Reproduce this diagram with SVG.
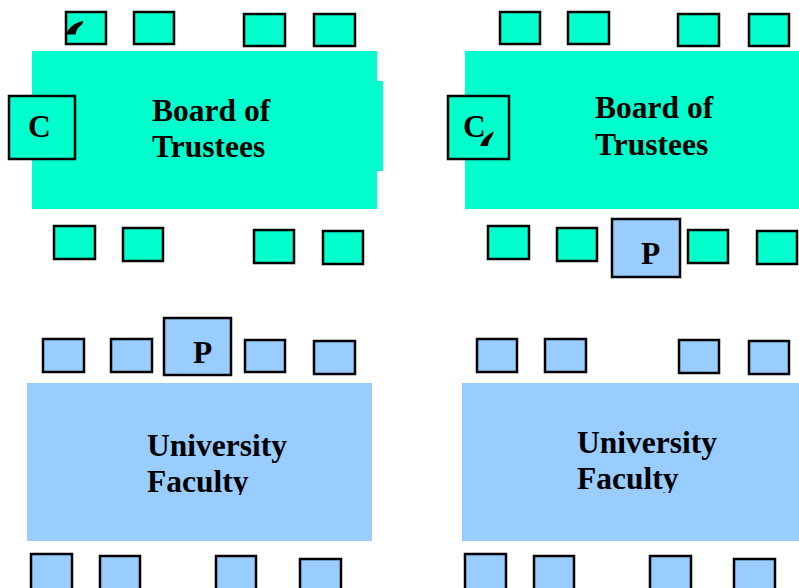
<svg xmlns="http://www.w3.org/2000/svg" width="799" height="588" viewBox="0 0 799 588">
<style>
.teal{fill:#00FFCC}
.blue{fill:#99CCFF}
.chair{stroke:#000;stroke-width:2.5}
.lbl{font-family:"Liberation Serif","Times New Roman",serif;font-weight:bold;font-size:31.5px;fill:#000}
.mark{fill:#000}
</style>
<defs>
<clipPath id="clipBL"><rect x="27" y="383" width="345" height="112"/></clipPath>
<clipPath id="clipBR"><rect x="462" y="383" width="337" height="110"/></clipPath>
</defs>
<rect width="799" height="588" fill="#fff"/>

<!-- Top-left panel -->
<g id="board-left">
<rect class="teal" x="32" y="51" width="345" height="158"/>
<rect class="teal" x="376" y="81" width="7" height="90"/>
<text class="lbl" x="152" y="121">Board of</text>
<text class="lbl" x="152" y="157">Trustees</text>
</g>
<g id="tl-top-1"><rect class="teal chair" x="66" y="12" width="40" height="32"/><path class="mark" d="M66.5,34.5 Q69,24 83.5,21 L82,24.5 Q76.5,28 75.5,34.5 Z"/></g>
<g id="tl-top-2"><rect class="teal chair" x="134" y="12" width="40" height="32"/></g>
<g id="tl-top-3"><rect class="teal chair" x="244" y="14" width="41" height="32"/></g>
<g id="tl-top-4"><rect class="teal chair" x="314" y="14" width="41" height="32"/></g>
<g id="tl-chair-c"><rect class="teal chair" x="9" y="96" width="66" height="63"/><text class="lbl" x="28" y="137">C</text></g>
<g id="tl-bot-1"><rect class="teal chair" x="54" y="226" width="41" height="33"/></g>
<g id="tl-bot-2"><rect class="teal chair" x="123" y="228" width="40" height="33"/></g>
<g id="tl-bot-3"><rect class="teal chair" x="254" y="230" width="40" height="33"/></g>
<g id="tl-bot-4"><rect class="teal chair" x="323" y="231" width="40" height="33"/></g>

<!-- Top-right panel -->
<g id="board-right">
<rect class="teal" x="465" y="51" width="334" height="158"/>
<text class="lbl" x="595" y="118">Board of</text>
<text class="lbl" x="595" y="155">Trustees</text>
</g>
<g id="tr-top-1"><rect class="teal chair" x="500" y="12" width="40" height="32"/></g>
<g id="tr-top-2"><rect class="teal chair" x="568" y="12" width="41" height="32"/></g>
<g id="tr-top-3"><rect class="teal chair" x="678" y="14" width="41" height="32"/></g>
<g id="tr-top-4"><rect class="teal chair" x="749" y="14" width="40" height="32"/></g>
<g id="tr-chair-c"><rect class="teal chair" x="448" y="96" width="61" height="63"/><text class="lbl" x="463" y="137">C</text><path class="mark" d="M480,146 Q483.5,136 494,131.5 L492,136.5 Q488.5,139.5 488,146 Z"/></g>
<g id="tr-bot-1"><rect class="teal chair" x="488" y="226" width="41" height="33"/></g>
<g id="tr-bot-2"><rect class="teal chair" x="557" y="228" width="40" height="33"/></g>
<g id="tr-chair-p"><rect class="blue chair" x="612" y="219" width="68" height="58"/><text class="lbl" x="641" y="264">P</text></g>
<g id="tr-bot-3"><rect class="teal chair" x="688" y="230" width="40" height="33"/></g>
<g id="tr-bot-4"><rect class="teal chair" x="757" y="231" width="40" height="33"/></g>

<!-- Bottom-left panel -->
<g id="faculty-left">
<rect class="blue" x="27" y="383" width="345" height="158"/>
<g clip-path="url(#clipBL)">
<text class="lbl" x="147" y="456">University</text>
<text class="lbl" x="147" y="492">Faculty</text>
</g>
</g>
<g id="bl-top-1"><rect class="blue chair" x="43" y="339" width="41" height="33"/></g>
<g id="bl-top-2"><rect class="blue chair" x="111" y="339" width="41" height="33"/></g>
<g id="bl-chair-p"><rect class="blue chair" x="164" y="318" width="67" height="57"/><text class="lbl" x="193" y="363">P</text></g>
<g id="bl-top-3"><rect class="blue chair" x="245" y="340" width="40" height="32"/></g>
<g id="bl-top-4"><rect class="blue chair" x="314" y="341" width="41" height="33"/></g>
<g id="bl-bot-1"><rect class="blue chair" x="31" y="554" width="41" height="36"/></g>
<g id="bl-bot-2"><rect class="blue chair" x="100" y="556" width="40" height="36"/></g>
<g id="bl-bot-3"><rect class="blue chair" x="216" y="556" width="40" height="36"/></g>
<g id="bl-bot-4"><rect class="blue chair" x="300" y="559" width="41" height="36"/></g>

<!-- Bottom-right panel -->
<g id="faculty-right">
<rect class="blue" x="462" y="383" width="337" height="158"/>
<g clip-path="url(#clipBR)">
<text class="lbl" x="577" y="453">University</text>
<text class="lbl" x="577" y="489">Faculty</text>
</g>
</g>
<g id="br-top-1"><rect class="blue chair" x="477" y="339" width="40" height="33"/></g>
<g id="br-top-2"><rect class="blue chair" x="545" y="339" width="41" height="33"/></g>
<g id="br-top-3"><rect class="blue chair" x="679" y="340" width="40" height="33"/></g>
<g id="br-top-4"><rect class="blue chair" x="749" y="341" width="40" height="33"/></g>
<g id="br-bot-1"><rect class="blue chair" x="465" y="554" width="41" height="36"/></g>
<g id="br-bot-2"><rect class="blue chair" x="534" y="556" width="40" height="36"/></g>
<g id="br-bot-3"><rect class="blue chair" x="650" y="556" width="41" height="36"/></g>
<g id="br-bot-4"><rect class="blue chair" x="734" y="559" width="41" height="36"/></g>

<g id="connectors"></g>
</svg>
